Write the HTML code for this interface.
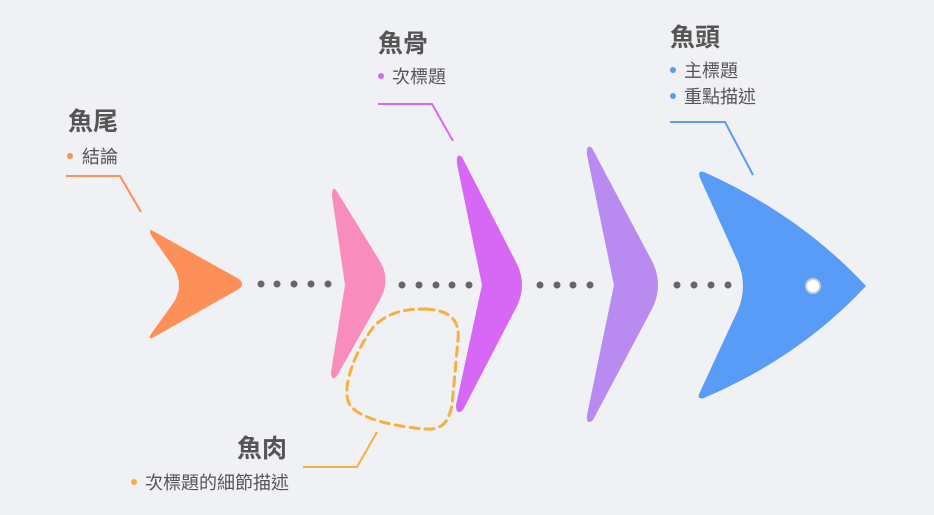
<!DOCTYPE html>
<html><head><meta charset="utf-8"><style>
html,body{margin:0;padding:0;background:#eff1f4;}
svg{display:block}
text{font-family:"Liberation Sans","Noto Sans CJK TC",sans-serif;}
.t{font-size:25px;font-weight:bold;fill:#555}
.s{font-size:18px;fill:#555}
</style></head><body>
<svg width="934" height="515" viewBox="0 0 934 515" xmlns="http://www.w3.org/2000/svg">
<rect width="934" height="515" fill="#eff1f4"/>
<path d="M153,231 L239,279 Q245,284 239,289 L154,337 Q147,341 151,334 L174,302 Q184,285 174,268 L151,235 Q148,228 153,231 Z" fill="#fd8f58"/>
<path d="M336,190 L381,263 Q390,280 381,298 L337,376 Q331,382 331,372 L345,285 L332,196 Q332,186 336,190 Z" fill="#f88dbd"/>
<path d="M462,157 L517,264 Q527,285 517,306 L463,410 Q456,416 456,405 L482,285 L457,164 Q456,152 462,157 Z" fill="#d668f5"/>
<path d="M592,148 L653,263 Q663,285 653,307 L593,420 Q586,426 587,415 L614,285 L587,155 Q586,143 592,148 Z" fill="#b98af0"/>
<path d="M704,172 Q800,215 866,286 Q800,357 704,398 Q696,400 700,392 L738,310 Q748,286 738,262 L700,178 Q697,170 704,172 Z" fill="#589cf8"/>
<circle cx="813" cy="286" r="7" fill="#fff" stroke="#c8cdd6" stroke-width="2"/>
<g fill="#666">
<circle cx="261" cy="284" r="3.5"/><circle cx="277" cy="284" r="3.5"/><circle cx="294" cy="284" r="3.5"/><circle cx="311" cy="284" r="3.5"/><circle cx="328" cy="284" r="3.5"/>
<circle cx="402" cy="285" r="3.5"/><circle cx="419" cy="285" r="3.5"/><circle cx="436" cy="285" r="3.5"/><circle cx="452" cy="285" r="3.5"/><circle cx="469" cy="285" r="3.5"/>
<circle cx="540" cy="285" r="3.5"/><circle cx="557" cy="285" r="3.5"/><circle cx="573" cy="285" r="3.5"/><circle cx="590" cy="285" r="3.5"/>
<circle cx="677" cy="285" r="3.5"/><circle cx="694" cy="285" r="3.5"/><circle cx="711" cy="285" r="3.5"/><circle cx="728" cy="285" r="3.5"/>
</g>
<path d="M425,309 C450,310 460,320 458,340 L452,405 C448,425 440,430 425,429 C400,427 360,420 350,405 C340,390 355,350 375,325 C390,312 405,309 425,309 Z" fill="none" stroke="#f7b040" stroke-width="3" stroke-dasharray="9,6" stroke-linecap="round"/>
<polyline points="66,176 120,176 141,212" fill="none" stroke="#fd8f58" stroke-width="2"/>
<polyline points="378,104 432,104 453,141" fill="none" stroke="#d668f5" stroke-width="2"/>
<polyline points="670,122 725,122 753,175" fill="none" stroke="#589cf8" stroke-width="2"/>
<polyline points="303,467 357,467 377,432" fill="none" stroke="#f7b040" stroke-width="2"/>
<text class="t" x="68" y="130">魚尾</text>
<circle cx="70" cy="156" r="3" fill="#fd8f58"/><text class="s" x="82" y="163">結論</text>
<text class="t" x="378" y="52">魚骨</text>
<circle cx="381" cy="76" r="3" fill="#d668f5"/><text class="s" x="392" y="83">次標題</text>
<text class="t" x="670" y="46">魚頭</text>
<circle cx="673" cy="70" r="3" fill="#589cf8"/><text class="s" x="684" y="77">主標題</text>
<circle cx="673" cy="96" r="3" fill="#589cf8"/><text class="s" x="684" y="103">重點描述</text>
<text class="t" x="237" y="457">魚肉</text>
<circle cx="134" cy="482" r="3" fill="#f7b040"/><text class="s" x="145" y="489">次標題的細節描述</text>
</svg>
</body></html>
